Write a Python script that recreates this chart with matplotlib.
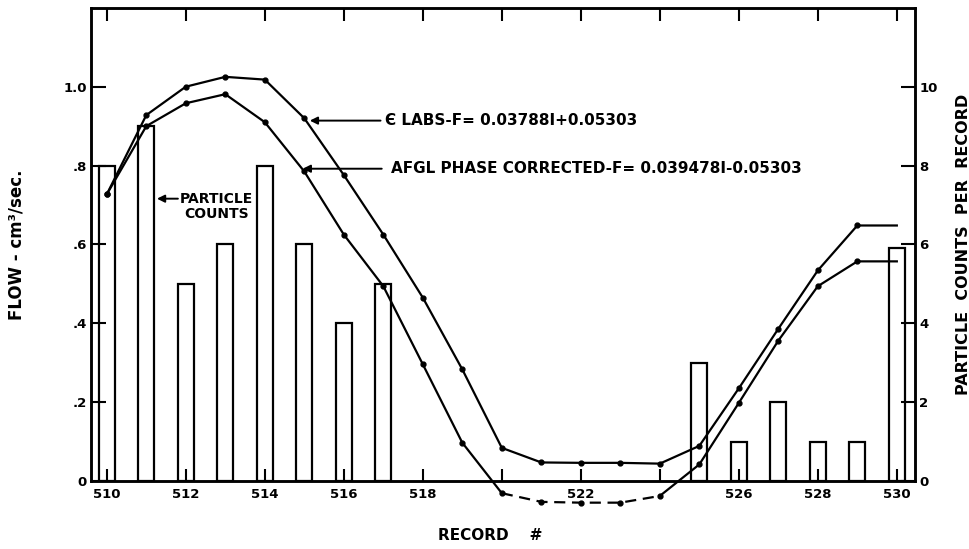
import numpy as np
import matplotlib
matplotlib.use("Agg")
import matplotlib.pyplot as plt

# record numbers and the two flow curves (cm^3/sec)
records = np.arange(510, 531)
flow_elabs = [0.727, 0.928, 1.000, 1.025, 1.018, 0.920, 0.776, 0.625, 0.465, 0.283,
              0.084, 0.047, 0.046, 0.046, 0.044, 0.089, 0.235, 0.386, 0.534, 0.648, 0.648]
flow_afgl = [0.727, 0.900, 0.958, 0.981, 0.910, 0.785, 0.625, 0.494, 0.296, 0.097,
             -0.031, -0.053, -0.055, -0.055, -0.038, 0.042, 0.198, 0.356, 0.494, 0.557, 0.557]

# particle counts per record
count_records = [510, 511, 512, 513, 514, 515, 516, 517, 525, 526, 527, 528, 529, 530]
counts = [8, 9, 5, 6, 8, 6, 4, 5, 3, 1, 2, 1, 1, 5.9]

xtick_vals = list(range(510, 531, 2))
xtick_labels = ["510", "512", "514", "516", "518", "", "522", "", "526", "528", "530"]
left_ticks = [0, 0.2, 0.4, 0.6, 0.8, 1.0]
left_labels = ["0", ".2", ".4", ".6", ".8", "1.0"]
right_ticks = [0, 2, 4, 6, 8, 10]

plt.rcParams['font.family'] = 'DejaVu Sans'
plt.rcParams['font.weight'] = 'bold'

fig = plt.figure(figsize=(9.7, 5.49), dpi=100)
ax = fig.add_axes([0.0938, 0.1239, 0.8495, 0.8618])
ax2 = ax.twinx()

# counts as open bars on the right-hand scale
ax2.bar(count_records, counts, width=0.4, facecolor='none', edgecolor='k', lw=1.6)
ax2.set_ylim(0, 12)
ax2.set_yticks(right_ticks)
ax2.set_yticklabels([str(t) for t in right_ticks], fontsize=9.5, fontweight='bold')
ax2.tick_params(axis='y', direction='in', length=10, width=1.5, pad=3)
ax2.set_ylabel("PARTICLE  COUNTS  PER  RECORD", fontsize=11.5, fontweight='bold')
ax2.yaxis.set_label_coords(1.05, 0.5)

lw = 1.6
ax.plot(records, flow_elabs, color='k', lw=lw, marker='o', ms=3.5, markevery=range(20))

# AFGL curve: solid, dashed through the negative stretch 520-524
afgl = np.array(flow_afgl)
i0, i1 = 10, 14
ax.plot(records[:i0 + 1], afgl[:i0 + 1], color='k', lw=lw, clip_on=False)
ax.plot(records[i0:i1 + 1], afgl[i0:i1 + 1], color='k', lw=lw, ls=(0, (5, 3)), clip_on=False)
ax.plot(records[i1:], afgl[i1:], color='k', lw=lw, clip_on=False)
ax.plot(records[:20], afgl[:20], ls='none', color='k', marker='o', ms=3.5, clip_on=False)

ax.set_xlim(509.6, 530.46)
ax.set_ylim(0, 1.2)
ax.set_xticks(xtick_vals)
ax.set_xticklabels(xtick_labels, fontsize=9.5, fontweight='bold')
ax.set_yticks(left_ticks)
ax.set_yticklabels(left_labels, fontsize=9.5, fontweight='bold')
ax.tick_params(axis='x', direction='in', length=9, width=1.5, pad=5, top=True)
ax.tick_params(axis='y', direction='in', length=11, width=1.5, pad=3)
for a in (ax, ax2):
    for s in a.spines.values():
        s.set_linewidth(1.8)

ax.set_xlabel("RECORD    #", fontsize=11, fontweight='bold')
ax.xaxis.set_label_coords(0.485, -0.1)
ax.set_ylabel("FLOW - cm³/sec.", fontsize=12, fontweight='bold')
ax.yaxis.set_label_coords(-0.08, 0.5)

arrow = dict(arrowstyle='-|>', color='k', lw=1.4, mutation_scale=11, shrinkA=0, shrinkB=0)
ax.annotate("", xy=(515.14, 0.914), xytext=(516.93, 0.914), arrowprops=arrow)
ax.text(517.05, 0.914, "Є LABS-F= 0.03788I+0.05303", fontsize=11, fontweight='bold',
        ha='left', va='center')
ax.annotate("", xy=(514.96, 0.792), xytext=(516.96, 0.792), arrowprops=arrow)
ax.text(517.19, 0.792, "AFGL PHASE CORRECTED-F= 0.039478I-0.05303", fontsize=11,
        fontweight='bold', ha='left', va='center')
ax.annotate("", xy=(511.27, 0.716), xytext=(511.8, 0.716), arrowprops=arrow)
ax.text(511.85, 0.697, "PARTICLE\nCOUNTS", fontsize=10, fontweight='bold',
        ha='left', va='center', multialignment='center', linespacing=1.1)

fig.savefig("out.png", dpi=100)
